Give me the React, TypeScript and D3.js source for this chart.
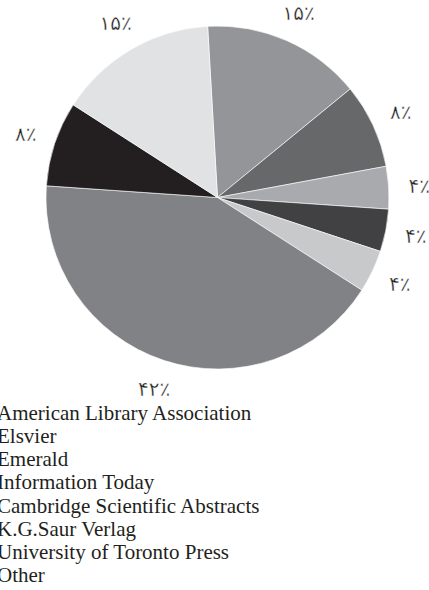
import React from "react";
import * as d3 from "d3";

const publishers = [
  "American Library Association",
  "Elsvier",
  "Emerald",
  "Information Today",
  "Cambridge Scientific Abstracts",
  "K.G.Saur Verlag",
  "University of Toronto Press",
  "Other",
];

// slice order clockwise from the top
const sliceValues = [15, 8, 4, 4, 4, 42, 8, 15];
const sliceLabels = ["۱۵٪", "۸٪", "۴٪", "۴٪", "۴٪", "۴۲٪", "۸٪", "۱۵٪"];
const sliceColors = [
  "#939598",
  "#67686a",
  "#a8aaad",
  "#414042",
  "#c8c9cb",
  "#808285",
  "#231f20",
  "#e1e2e3",
];

const W = 429;
const H = 590;
const CX = 217.5;
const CY = 197.5;
const R = 171.5;
const LABEL_R = 202;
const START = (-3.3 * Math.PI) / 180;

export default function App() {
  const pie = d3
    .pie<number>()
    .sort(null)
    .value((d) => d)
    .startAngle(START)
    .endAngle(START + 2 * Math.PI);
  const arcs = pie(sliceValues);
  const arc = d3.arc<d3.PieArcDatum<number>>().innerRadius(0).outerRadius(R);
  const labelArc = d3
    .arc<d3.PieArcDatum<number>>()
    .innerRadius(LABEL_R)
    .outerRadius(LABEL_R);

  const legendY = d3
    .scaleLinear()
    .domain([0, publishers.length - 1])
    .range([420, 582]);

  return (
    <svg
      width={W}
      height={H}
      style={{ position: "absolute", left: 0, top: 0, background: "#fff" }}
    >
      <g transform={`translate(${CX},${CY})`}>
        {arcs.map((a, i) => (
          <path
            key={i}
            d={arc(a) || ""}
            fill={sliceColors[i]}
            stroke="#ffffff"
            strokeWidth={0.6}
          />
        ))}
        {arcs.map((a, i) => {
          const [x, y] = labelArc.centroid(a);
          return (
            <text
              key={"l" + i}
              x={x}
              y={y}
              dy="0.35em"
              textAnchor="middle"
              fontFamily="DejaVu Sans"
              fontSize={20}
              fill="#231f20"
              stroke="#ffffff"
              strokeWidth={0.35}
            >
              {sliceLabels[i]}
            </text>
          );
        })}
      </g>
      <g>
        {publishers.map((p, i) => (
          <text
            key={p}
            x={-3}
            y={legendY(i)}
            fontFamily="Liberation Serif"
            fontSize={21}
            fill="#231f20"
          >
            {p}
          </text>
        ))}
      </g>
    </svg>
  );
}
